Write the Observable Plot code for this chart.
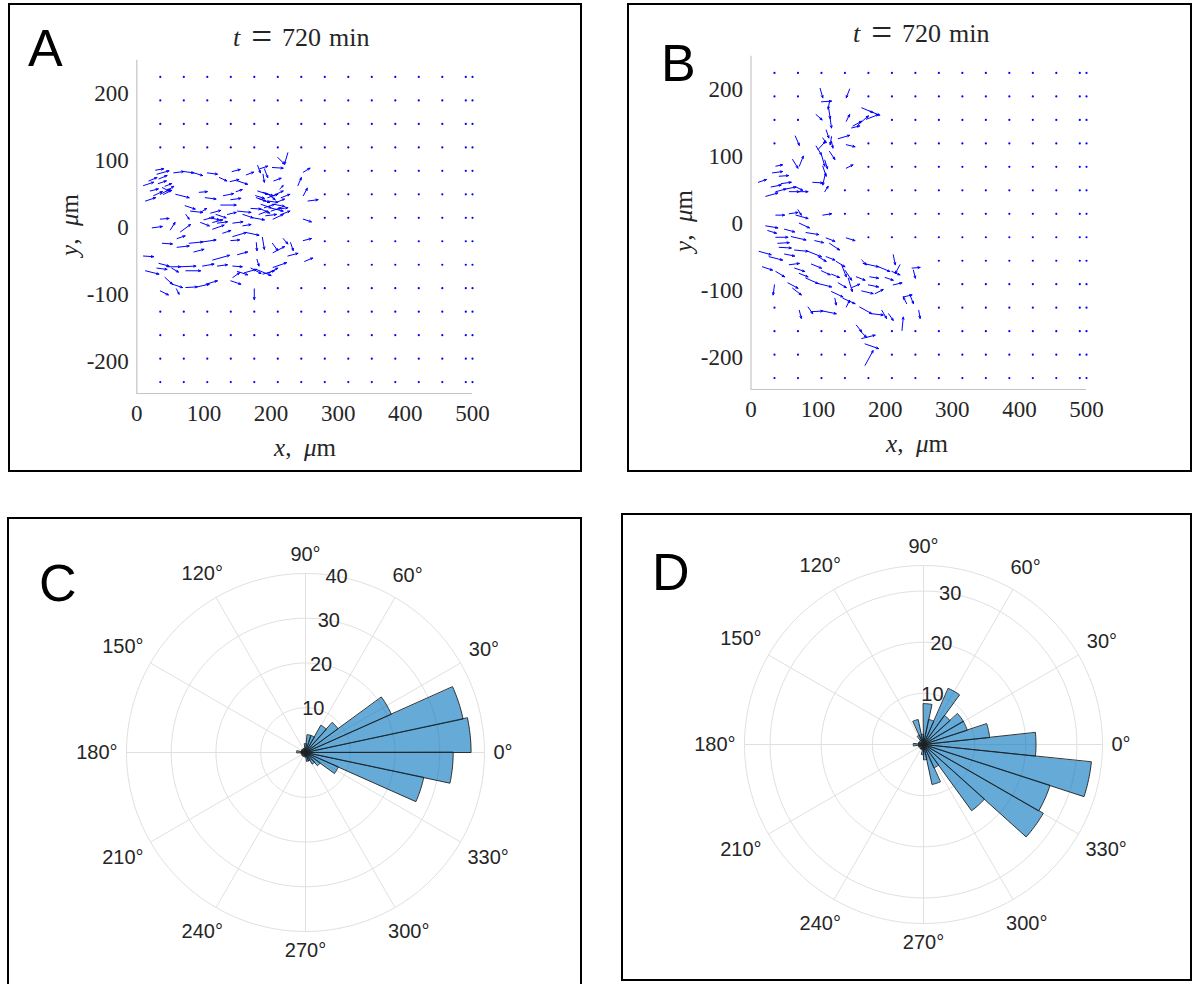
<!DOCTYPE html>
<html>
<head>
<meta charset="utf-8">
<script src="https://cdn.jsdelivr.net/npm/d3@7"></script>
<script src="https://cdn.jsdelivr.net/npm/@observablehq/plot@0.6"></script>
<style>
  body { margin: 0; background: #fff; }
  #page { position: relative; width: 1195px; height: 984px; overflow: hidden; background: #fff; }
  .frame { position: absolute; border: 2px solid #000; box-sizing: border-box; pointer-events: none; }
  .svgbox { position: absolute; }
  .letter { position: absolute; font-family: "Liberation Sans", Arial, sans-serif; font-size: 52px; line-height: 1; color: #000; }
  .tex { position: absolute; font-family: "Liberation Serif", "DejaVu Serif", serif; font-size: 25px; color: #262626; white-space: nowrap; transform: translate(-50%, -50%); line-height: 1; }
  .rot { transform: translate(-50%, -50%) rotate(-90deg); }
  .title { position: absolute; font-family: "Liberation Serif", "DejaVu Serif", serif; font-size: 26px; line-height: 26px; color: #262626; white-space: nowrap; }
  .title .eq { font-size: 37px; position: relative; top: 3px; margin: 0 10px 0 11px; }
  .title .unit { margin-left: 8px; }
</style>
</head>
<body>
<div id="page"></div>
<script>
// ---------------- DATA ----------------
// grid of resting nodes (μm)
const gridX = [35, 70, 105, 140, 175, 210, 245, 280, 315, 350, 385, 420, 455, 490, 500];
const gridY = [225, 190, 155, 120, 85, 50, 15, -20, -55, -90, -125, -160, -195, -230];
const xTicks = [0, 100, 200, 300, 400, 500];
const yTicks = [-200, -100, 0, 100, 200];

// cell displacement arrows, panel A: [x0, y0, x1, y1] in μm
const arrowsA = [
  [10,63,25,68],[18,70,30,75],[30,80,48,85],[33,73,45,78],[55,82,70,84],[70,84,85,82],[85,82,98,78],
  [105,82,120,80],[123,75,134,70],[142,84,154,87],[139,69,152,72],[150,70,165,65],[163,79,174,83],
  [180,93,184,82],[183,88,195,92],[188,80,190,68],[190,88,195,75],[202,90,218,89],[204,70,215,74],
  [225,112,220,95],[210,105,220,95],[248,83,258,89],[240,63,245,75],
  [13,40,28,45],[25,48,38,54],[35,50,50,58],[38,60,48,55],[45,55,55,62],[40,50,52,56],[58,50,78,45],
  [93,53,105,54],[102,45,118,43],[129,48,144,51],[148,54,157,57],[177,48,190,44],[183,43,198,38],
  [188,53,203,48],[195,40,210,38],[203,48,218,55],[208,38,220,43],[213,58,218,63],[248,48,254,59],
  [255,40,270,42],[185,35,200,30],[190,30,205,35],[195,45,210,50],[180,55,195,50],[200,25,215,30],
  [178,45,192,40],[185,28,198,22],[192,18,208,20],[205,35,220,32],[210,28,225,30],[182,20,195,25],
  [196,50,206,42],[215,45,228,50],[28,86,40,88],[32,66,44,70],[42,62,52,66],[20,55,32,58],
  [72,33,87,28],[80,25,98,23],[95,23,104,29],[125,34,148,34],[108,15,123,12],[118,20,133,15],
  [113,8,128,12],[150,25,170,23],[158,20,173,15],[173,15,190,12],[170,29,185,28],[198,30,218,25],
  [203,13,218,20],[215,20,228,25],[248,13,260,9],[135,20,148,23],[100,12,115,16],[110,22,125,26],
  [140,42,155,44],[95,8,108,3],
  [23,0,38,2],[35,13,48,14],[50,-3,57,8],[65,-6,80,5],[73,20,78,13],[113,-2,130,4],[120,7,135,9],
  [143,7,158,9],[158,3,170,5],[128,-8,140,-4],[60,-16,72,-12],
  [143,-13,163,-7],[163,-7,182,-11],[140,-19,153,-18],[38,-23,53,-24],[60,-29,78,-27],[78,-23,98,-21],
  [98,-21,118,-18],[178,-22,179,-34],[187,-14,190,-32],[202,-23,210,-34],[218,-16,225,-24],
  [229,-22,233,-34],[248,-19,260,-16],[203,-37,220,-28],[10,-42,25,-43],[85,-36,100,-32],
  [150,-40,165,-36],[225,-42,240,-38],[250,-50,262,-45],
  [33,-53,48,-57],[45,-58,65,-58],[65,-58,88,-57],[73,-64,95,-64],[98,-57,115,-54],[113,-48,138,-41],
  [120,-57,135,-55],[143,-57,157,-58],[179,-47,182,-57],[160,-67,178,-62],[178,-62,200,-71],
  [188,-69,205,-64],[203,-59,223,-52],[143,-74,153,-67],[13,-64,33,-69],[30,-60,45,-62],[52,-60,62,-66],
  [170,-60,185,-68],[195,-68,210,-60],[150,-65,165,-70],
  [42,-74,53,-84],[53,-84,68,-89],[73,-89,90,-88],[90,-88,108,-84],[103,-84,120,-79],[35,-94,47,-100],
  [59,-91,63,-99],[140,-79,155,-84],[175,-91,175,-107]
];

// cell displacement arrows, panel B: [x0, y0, x1, y1] in μm
const arrowsB = [
  [103,202,107,188],[147,201,142,188],[105,182,120,183],[117,183,115,171],[116,171,118,157],[118,157,120,143],
  [97,163,106,155],[142,153,147,163],[165,173,182,166],[177,168,192,162],[172,156,190,163],[152,146,165,153],
  [160,148,175,161],[150,143,162,146],[130,127,147,132],[142,118,155,115],[66,131,72,117],[107,128,112,121],
  [97,116,105,103],[100,111,111,123],[120,123,122,113],[117,108,125,96],[105,103,110,86],[107,86,112,71],
  [111,76,107,58],[92,62,107,61],[110,48,115,56],[142,83,152,88],[62,96,70,83],[72,86,78,101],[37,86,47,88],
  [32,76,47,78],[42,71,56,72],[11,62,23,66],[22,41,40,46],[37,48,52,52],[52,52,67,55],[57,48,72,48],
  [67,55,77,50],[72,48,85,48],[112,140,116,128],[120,130,118,118],[110,95,114,82],[30,55,45,58],[45,60,60,62],
  [37,13,50,13],[57,15,70,17],[70,21,75,13],[67,13,85,8],[107,13,120,15],[22,-3,40,-6],[72,1,87,-6],
  [82,-13,101,-16],[37,-20,55,-20],[40,-29,57,-28],[42,-35,60,-36],[60,-19,82,-24],[112,-21,125,-26],
  [117,-29,132,-39],[142,-21,155,-25],[12,-41,30,-46],[27,-49,47,-54],[65,-39,85,-41],[85,-41,105,-49],
  [100,-49,112,-56],[112,-49,125,-54],[127,-56,140,-64],[135,-61,142,-79],[140,-69,150,-84],[145,-81,151,-101],
  [17,-64,32,-69],[37,-71,50,-79],[57,-61,72,-59],[65,-66,80,-71],[72,-74,85,-79],[35,-91,33,-106],
  [55,-88,70,-96],[62,-96,75,-106],[82,-81,100,-89],[100,-89,120,-94],[120,-101,137,-109],[125,-111,127,-121],
  [137,-111,155,-119],[142,-124,147,-114],[25,-10,38,-14],[50,-8,65,-12],[90,-60,105,-66],[105,-70,118,-76],
  [120,-75,132,-80],[50,-45,65,-48],[95,-25,108,-28],[130,-88,142,-95],
  [165,-54,172,-61],[167,-59,190,-64],[190,-64,207,-71],[212,-46,215,-61],[210,-71,222,-76],[222,-61,215,-74],
  [157,-79,170,-84],[177,-79,190,-81],[175,-91,190,-94],[165,-100,182,-104],[185,-104,197,-98],[212,-91,225,-88],
  [242,-69,245,-81],[240,-66,252,-65],[227,-109,240,-106],[237,-106,242,-119],[232,-119,227,-109],
  [250,-129,252,-141],[225,-159,227,-139],[162,-124,180,-134],[180,-134,197,-136],[195,-129,202,-141],
  [205,-134,212,-144],[72,-129,75,-141],[85,-124,92,-134],[90,-131,107,-130],[107,-130,127,-134],
  [157,-151,165,-161],[162,-159,172,-169],[165,-171,185,-166],[170,-179,190,-186],[170,-211,182,-189],
  [200,-80,212,-84],[150,-95,162,-90]
];

// polar histograms (12° bins)
const binWidth = 12;
const angleTicks = [0, 30, 60, 90, 120, 150, 180, 210, 240, 270, 300, 330];
const countsC = [37, 36, 21, 9, 7, 4, 4, 2, 1, 1, 0, 1, 1, 1, 2, 1, 1, 0, 1, 1, 0, 1, 1, 2, 2, 3, 4, 8, 27, 33];
const binStartC = 0;
const rTicksC = [10, 20, 30, 40];
const rMaxC = 40;
const countsD = [22, 13, 9, 9, 7, 12, 5, 8, 2, 5, 2, 1, 0, 1, 1, 2, 1, 1, 0, 1, 1, 1, 2, 3, 8, 5, 16, 27, 26, 33];
const binStartD = -6;
const rTicksD = [10, 20, 30];
const rMaxD = 35;

// ---------------- HELPERS ----------------
const page = document.getElementById("page");
function add(html) { page.insertAdjacentHTML("beforeend", html); }
function place(svg, left, top) {
  const d = document.createElement("div");
  d.className = "svgbox";
  d.style.left = left + "px"; d.style.top = top + "px";
  d.appendChild(svg);
  page.appendChild(d);
}
function segDist(px, py, a) {
  const [x0, y0, x1, y1] = a;
  const dx = x1 - x0, dy = y1 - y0;
  const L2 = dx * dx + dy * dy || 1;
  let t = ((px - x0) * dx + (py - y0) * dy) / L2;
  t = Math.max(0, Math.min(1, t));
  return Math.hypot(px - (x0 + t * dx), py - (y0 + t * dy));
}

const serif = '"Liberation Serif", "DejaVu Serif", serif';
const sans = '"Liberation Sans", Arial, sans-serif';

function quiver(arrows, L) {
  const nodes = gridX.flatMap(x => gridY.map(y => ({x, y})))
    .filter(p => arrows.every(a => segDist(p.x, p.y, a) > 12));
  const yMin = -247, yMax = 250;
  return Plot.plot({
    width: L.width, height: L.height,
    marginLeft: L.pl - L.left, marginRight: L.left + L.width - L.pr,
    marginTop: L.pt - L.top, marginBottom: L.top + L.height - L.pb,
    x: {domain: [0, 500]},
    y: {domain: [yMin, yMax]},
    style: {fontFamily: serif, fontSize: "23px", color: "#262626", background: "transparent", overflow: "visible"},
    marks: [
      Plot.ruleX([0], {stroke: "#c4c4c4", strokeWidth: 1.2}),
      Plot.ruleY([yMin], {stroke: "#c4c4c4", strokeWidth: 1.2}),
      Plot.axisX(xTicks, {tickSize: 0, tickPadding: 11, label: null, tickFormat: d => String(d), fontSize: 23}),
      Plot.axisY(yTicks, {tickSize: 0, tickPadding: 8, label: null, tickFormat: d => String(d), fontSize: 23}),
      Plot.dot(nodes, {x: "x", y: "y", r: 1.1, fill: "#0000ff", stroke: null}),
      Plot.arrow(arrows, {
        x1: d => d[0], y1: d => d[1], x2: d => d[2], y2: d => d[3],
        stroke: "#0000ff", strokeWidth: 1, headLength: 3.5, headAngle: 45
      })
    ]
  });
}

function rose(counts, binStart, rMax, rTicks, L) {
  const k = L.R / rMax;
  const rad = a => a * Math.PI / 180;
  const fs = 20, charW = 0.556 * fs, degW = 0.4 * fs, halfH = 10, gap = 9;
  const xDom = [(L.left - L.cx) / k, (L.left + L.width - L.cx) / k];
  const yDom = [(L.cy - L.top - L.height) / k, (L.cy - L.top) / k];
  const wedges = [];
  counts.forEach((c, i) => {
    if (!c) return;
    const a0 = binStart + i * binWidth;
    wedges.push({bin: i, x: 0, y: 0});
    for (let s = 0; s <= binWidth; s += 1) {
      const a = rad(a0 + s);
      wedges.push({bin: i, x: c * Math.cos(a), y: c * Math.sin(a)});
    }
  });
  const rings = [...rTicks.filter(t => t < rMax), rMax];
  const ringPts = rings.flatMap(r => d3.range(0, 361, 2).map(a => ({r, x: r * Math.cos(rad(a)), y: r * Math.sin(rad(a))})));
  const spokes = angleTicks.map(a => ({x: rMax * Math.cos(rad(a)), y: rMax * Math.sin(rad(a))}));
  // label boxes sit just outside the outer ring: nearest box corner at R + gap
  const angLabels = angleTicks.map(a => {
    const u = Math.cos(rad(a)), v = Math.sin(rad(a));
    const hw = (String(a).length * charW + degW) / 2;
    const su = Math.abs(u) < 1e-6 ? 0 : Math.sign(u), sv = Math.abs(v) < 1e-6 ? 0 : Math.sign(v);
    let lo = L.R, hi = L.R + 80;
    for (let it = 0; it < 40; it++) {
      const d = (lo + hi) / 2;
      const ex = d * u - su * hw, ey = d * v - sv * halfH;
      if (Math.hypot(ex, ey) < L.R + gap) lo = d; else hi = d;
    }
    const d = (lo + hi) / 2;
    return {t: a + "°", x: d * u / k, y: d * v / k};
  });
  const rLabels = rTicks.map(r => ({t: String(r), x: r * Math.cos(rad(80)), y: r * Math.sin(rad(80))}));
  return Plot.plot({
    width: L.width, height: L.height,
    marginLeft: 0, marginRight: 0, marginTop: 0, marginBottom: 0,
    x: {domain: xDom, axis: null},
    y: {domain: yDom, axis: null},
    style: {fontFamily: sans, background: "transparent", overflow: "visible"},
    marks: [
      Plot.line(ringPts, {x: "x", y: "y", z: "r", stroke: "#e0e0e0", strokeWidth: 1}),
      Plot.link(spokes, {x1: 0, y1: 0, x2: "x", y2: "y", stroke: "#e0e0e0", strokeWidth: 1}),
      Plot.line(wedges, {x: "x", y: "y", z: "bin", curve: "linear-closed",
        fill: "#0072bd", fillOpacity: 0.6, stroke: "#1f1f1f", strokeWidth: 0.9, strokeLinejoin: "round"}),
      Plot.text(angLabels, {x: "x", y: "y", text: "t", fontSize: fs, fill: "#262626", textAnchor: "middle", lineAnchor: "middle"}),
      Plot.text(rLabels, {x: "x", y: "y", text: "t", fontSize: fs, fill: "#262626", textAnchor: "middle", lineAnchor: "middle"})
    ]
  });
}

// ---------------- LAYOUT ----------------
const LA = {left: 8, top: 3, width: 574, height: 469, pl: 136.3, pr: 472, pt: 59.7, pb: 393};
const LB = {left: 627, top: 3, width: 565, height: 469, pl: 750.5, pr: 1086, pt: 55.7, pb: 389};
const LC = {left: 7, top: 517, width: 575, height: 480, cx: 305, cy: 752, R: 179};
const LD = {left: 621, top: 513, width: 571, height: 468, cx: 923, cy: 744, R: 179};

place(quiver(arrowsA, LA), LA.left, LA.top);
place(quiver(arrowsB, LB), LB.left, LB.top);
place(rose(countsC, binStartC, rMaxC, rTicksC, LC), LC.left, LC.top);
place(rose(countsD, binStartD, rMaxD, rTicksD, LD), LD.left, LD.top);

// frames
for (const L of [LA, LB, LC, LD]) {
  add(`<div class="frame" style="left:${L.left}px;top:${L.top}px;width:${L.width}px;height:${L.height}px"></div>`);
}

// titles and axis labels
const title = '<i>t</i><span class="eq">=</span>720<span class="unit">min</span>';
const xlab = '<i>x</i>,&ensp;<i>μ</i>m';
const ylab = '<i>y</i>,&ensp;<i>μ</i>m';
add(`<div class="title" style="left:233px;top:21px">${title}</div>`);
add(`<div class="title" style="left:853px;top:17px">${title}</div>`);
add(`<div class="tex" style="left:305px;top:447px">${xlab}</div>`);
add(`<div class="tex" style="left:917px;top:443px">${xlab}</div>`);
add(`<div class="tex rot" style="left:69px;top:225px">${ylab}</div>`);
add(`<div class="tex rot" style="left:683px;top:221px">${ylab}</div>`);

// panel letters
add(`<div class="letter" style="left:28px;top:22px">A</div>`);
add(`<div class="letter" style="left:661px;top:37px">B</div>`);
add(`<div class="letter" style="left:39px;top:557px">C</div>`);
add(`<div class="letter" style="left:652px;top:546px">D</div>`);
</script>
</body>
</html>
